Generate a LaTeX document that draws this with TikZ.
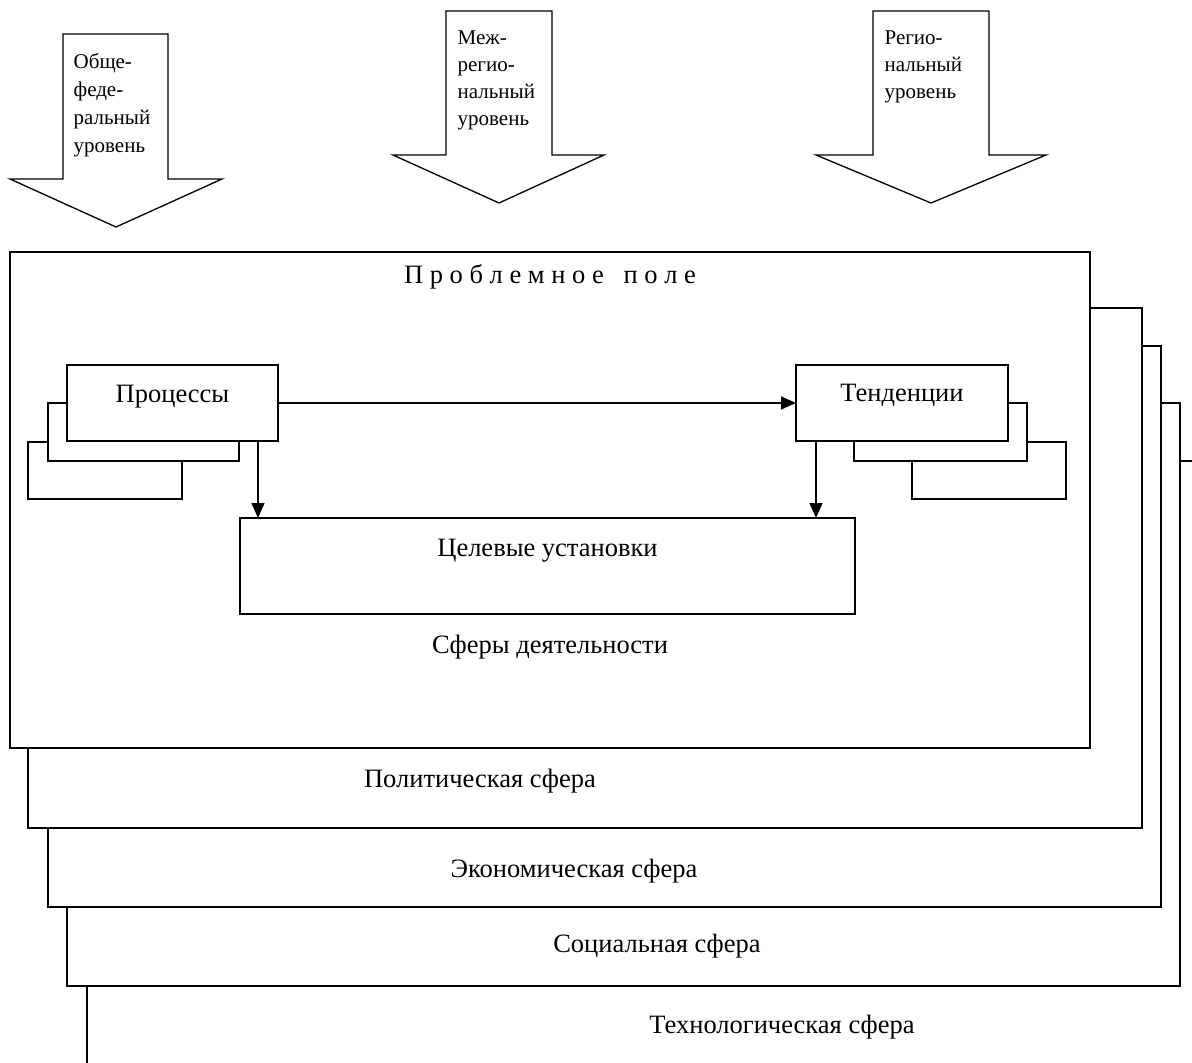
\documentclass[tikz,border=0pt]{standalone}
\usepackage{fontspec}
\setmainfont{Liberation Serif}
\usetikzlibrary{arrows.meta,calc}

\begin{document}
\begin{tikzpicture}[x=1pt,y=-1pt,line width=1.3pt,
    box/.style={draw,fill=white,inner sep=0pt,outer sep=0pt,anchor=north west,font=\fontsize{26.5}{30}\selectfont},
    arr/.style={-{Triangle[length=15pt,width=13pt]}},
    txt/.style={inner sep=0pt,anchor=base,font=\fontsize{26.5}{30}\selectfont},
    lvl/.style={inner sep=0pt,anchor=north west,align=left,font=\fontsize{21}{27}\selectfont}]
                \useasboundingbox(0,0)rectangle(1192,1063);
                \clip(0,0)rectangle(1192,1063);
                % spheres, back to front
                \draw[fill=white](87,461)rectangle(1230,1100);
                \draw[fill=white](67,403)rectangle(1180,986);
                \draw[fill=white](48,346)rectangle(1161,907);
                \draw[fill=white](28,308)rectangle(1142,828);
                \draw[fill=white](10,252)rectangle(1090,748);
                \node[txt](field)at(550,283){П р о б л е м н о е\ \ \ п о л е};
                \node[txt](spheres)at(550,653){Сферы деятельности};
                \node[txt](pol)at(480,787){Политическая сфера};
                \node[txt](econ)at(574,877){Экономическая сфера};
                \node[txt](soc)at(657,952){Социальная сфера};
                \node[txt](tech)at(782,1033){Технологическая сфера};
                % processes
                \draw[fill=white](28,442)rectangle(182,499);
                \draw[fill=white](48,403)rectangle(239,461);
                \node[box,minimum width=211pt,text height=37pt,text depth=39pt](proc)at(67,365){Процессы};
                % tendencies
                \draw[fill=white](912,442)rectangle(1066,499);
                \draw[fill=white](854,403)rectangle(1027,461);
                \node[box,minimum width=212pt,text height=36pt,text depth=40pt](tend)at(796,365){Тенденции};
                % goals
                \node[box,minimum width=615pt,text height=38pt,text depth=58pt](goal)at(240,518){Целевые установки};
                \coordinate(P)at([xshift=-20pt]proc.south east);
                \coordinate(T)at([xshift=20pt]tend.south west);
                \draw[arr](proc.east)--(tend.west);
                \draw[arr](P)--(P|-goal.north);
                \draw[arr](T)--(T|-goal.north);
                % levels
                \draw[fill=white](63,34)--(168,34)--(168,179)--(222,179)--(116,227)--(10,179)--(63,179)--cycle;
                \draw[fill=white](446,11)--(552,11)--(552,155)--(604,155)--(499,203)--(393,155)--(446,155)--cycle;
                \draw[fill=white](873,11)--(989,11)--(989,155)--(1046,155)--(931,203)--(816,155)--(873,155)--cycle;
                \node[lvl,font=\fontsize{21}{28}\selectfont](fed)at(73,53){Обще-\\феде-\\ральный\\уровень};
                \node[lvl](inter)at(457,30){Меж-\\регио-\\нальный\\уровень};
                \node[lvl](reg)at(884,30){Регио-\\нальный\\уровень};
            \end{tikzpicture}
\end{document}
